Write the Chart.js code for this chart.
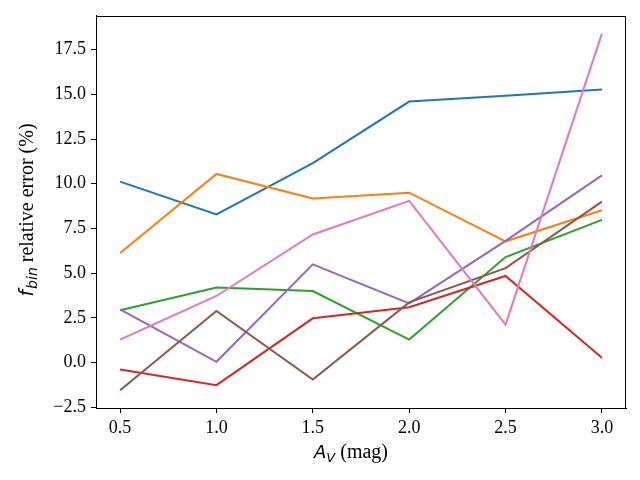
<!DOCTYPE html>
<html>
<head>
<meta charset="utf-8">
<script src="https://cdn.jsdelivr.net/npm/chart.js@4/dist/chart.umd.min.js"></script>
<style>
html,body{margin:0;padding:0;background:#fff;}
canvas{display:block;}
</style>
</head>
<body>
<canvas id="c" width="640" height="480" style="width:640px;height:480px"></canvas>
<script>
const xValues = [0.5, 1.0, 1.5, 2.0, 2.5, 3.0];
const xTicks = [0.5, 1.0, 1.5, 2.0, 2.5, 3.0];
const yTicks = [-2.5, 0.0, 2.5, 5.0, 7.5, 10.0, 12.5, 15.0, 17.5];

const seriesBlue   = [10.12, 8.28, 11.16, 14.60, 14.93, 15.27];
const seriesOrange = [6.12, 10.55, 9.17, 9.50, 6.78, 8.52];
const seriesGreen  = [2.92, 4.19, 4.00, 1.28, 5.90, 7.98];
const seriesRed    = [-0.39, -1.27, 2.47, 3.09, 4.84, 0.26];
const seriesPurple = [2.97, 0.04, 5.49, 3.31, 6.80, 10.47];
const seriesBrown  = [-1.55, 2.88, -0.95, 3.36, 5.28, 9.00];
const seriesPink   = [1.28, 3.72, 7.16, 9.04, 2.12, 18.40];

const allSeries = [seriesBlue, seriesOrange, seriesGreen, seriesRed, seriesPurple, seriesBrown, seriesPink];
const colors = ['#1f77b4', '#ff7f0e', '#2ca02c', '#d62728', '#9467bd', '#8c564b', '#e377c2'];

const allVals = allSeries.flat();
const dMin = Math.min(...allVals), dMax = Math.max(...allVals);
const yPad = (dMax - dMin) * 0.05;
const xPad = (xValues[xValues.length - 1] - xValues[0]) * 0.05;

const serif = '"Liberation Serif", "DejaVu Serif", serif';
const sans = '"DejaVu Sans", sans-serif';

const datasets = allSeries.map((s, i) => ({
  data: s.map((v, k) => ({x: xValues[k], y: v})),
  borderColor: colors[i],
  backgroundColor: colors[i],
  borderWidth: 2,
  pointRadius: 0,
  pointHoverRadius: 0,
  tension: 0,
  fill: false,
  order: -i
}));

function fmt(v) {
  const s = Math.abs(v).toFixed(1);
  return v < 0 ? '\u2212' + s : s;
}

const framePlugin = {
  id: 'frame',
  afterDraw(chart) {
    const ctx = chart.ctx, a = chart.chartArea;
    ctx.save();
    ctx.strokeStyle = '#000';
    ctx.lineWidth = 1;
    ctx.strokeRect(Math.round(a.left) + 0.5, Math.round(a.top) + 0.5,
                   Math.round(a.right - a.left) - 1, Math.round(a.bottom - a.top));
    ctx.restore();

    // x-axis label: A_V (mag)
    ctx.save();
    ctx.fillStyle = '#000';
    ctx.textBaseline = 'alphabetic';
    ctx.textAlign = 'left';
    const parts = [
      {t: 'A', f: 'italic 18px ' + sans, dy: 0},
      {t: 'V', f: 'italic 13px ' + sans, dy: 4},
      {t: ' (mag)', f: '20px ' + serif, dy: 0}
    ];
    let w = 0;
    parts.forEach(p => { ctx.font = p.f; p.w = ctx.measureText(p.t).width; w += p.w; });
    let x = 351 - w / 2;
    const baseY = 458;
    parts.forEach(p => { ctx.font = p.f; ctx.fillText(p.t, x, baseY + p.dy); x += p.w; });
    ctx.restore();

    // y-axis label: f_bin relative error (%)
    ctx.save();
    ctx.fillStyle = '#000';
    ctx.translate(33, 210);
    ctx.rotate(-Math.PI / 2);
    ctx.textBaseline = 'alphabetic';
    ctx.textAlign = 'left';
    const yparts = [
      {t: 'f', f: 'italic 19px ' + sans, dy: 0, extra: 1},
      {t: 'bin', f: 'italic 14px ' + sans, dy: 4, extra: 0},
      {t: ' relative error (%)', f: '20px ' + serif, dy: 0, extra: 0}
    ];
    let wy = 0;
    yparts.forEach(p => { ctx.font = p.f; p.w = ctx.measureText(p.t).width + p.extra; wy += p.w; });
    let yx = -wy / 2;
    yparts.forEach(p => { ctx.font = p.f; ctx.fillText(p.t, yx, p.dy); yx += p.w; });
    ctx.restore();
  }
};

new Chart(document.getElementById('c'), {
  type: 'line',
  data: { datasets },
  options: {
    responsive: false,
    animation: false,
    devicePixelRatio: 1,
    layout: { padding: { top: 15, right: 14, left: 0, bottom: 0 } },
    plugins: { legend: { display: false }, tooltip: { enabled: false } },
    scales: {
      x: {
        type: 'linear',
        min: xValues[0] - xPad,
        max: xValues[xValues.length - 1] + xPad,
        afterBuildTicks: s => { s.ticks = xTicks.map(v => ({value: v})); },
        afterFit: s => { s.height = 72; },
        ticks: {
          autoSkip: false, maxRotation: 0,
          color: '#000', padding: 4,
          font: { family: serif, size: 18 },
          callback: v => fmt(v)
        },
        grid: { display: true, drawOnChartArea: false, drawTicks: true, tickLength: 5, color: '#000', tickWidth: 1 },
        border: { display: true, color: '#000', width: 1 }
      },
      y: {
        type: 'linear',
        min: dMin - yPad,
        max: dMax + yPad,
        afterBuildTicks: s => { s.ticks = yTicks.map(v => ({value: v})); },
        afterFit: s => { s.width = 96; },
        ticks: {
          autoSkip: false,
          color: '#000', padding: 5,
          font: { family: serif, size: 18 },
          callback: v => fmt(v)
        },
        grid: { display: true, drawOnChartArea: false, drawTicks: true, tickLength: 5, color: '#000', tickWidth: 1 },
        border: { display: true, color: '#000', width: 1 }
      }
    }
  },
  plugins: [framePlugin]
});
</script>
</body>
</html>
